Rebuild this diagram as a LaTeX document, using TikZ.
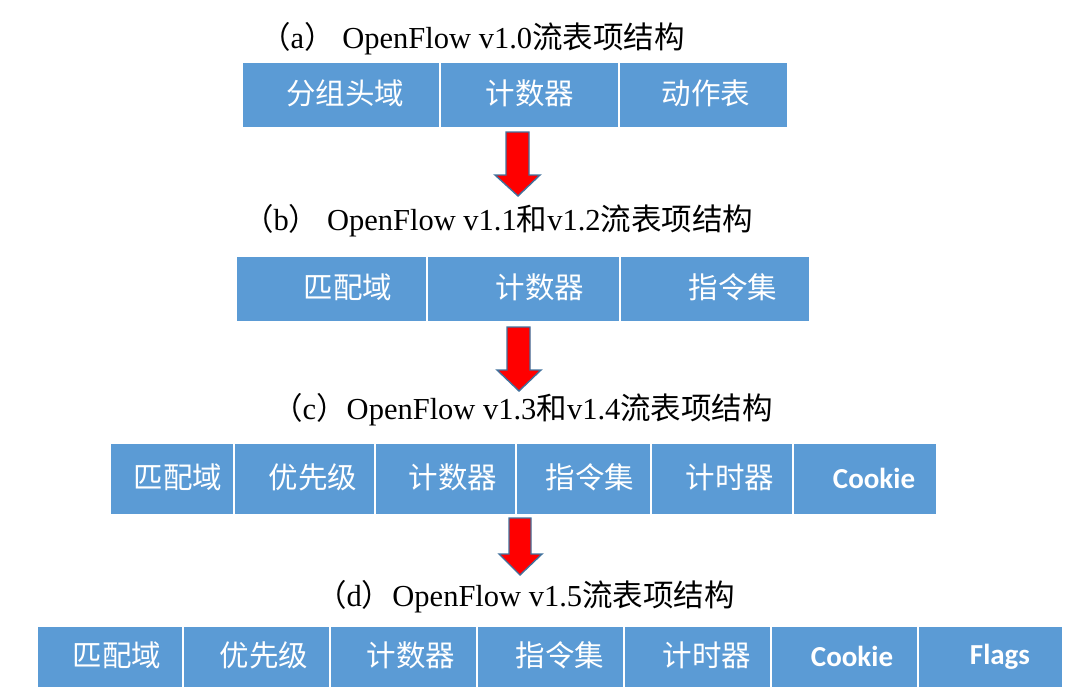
\documentclass[tikz,border=0pt]{standalone}
\usepackage{fontspec}
\setmainfont{Liberation Serif}
\newfontfamily\cjk{Noto Sans CJK SC}
\newfontfamily\carl{Carlito}
\definecolor{cellblue}{HTML}{5B9BD5}
\definecolor{arrowedge}{HTML}{41719C}
\begin{document}
\begin{tikzpicture}[x=1pt,y=-1pt,
  cell/.style={draw=white,line width=1.3pt,fill=cellblue,inner sep=0pt},
  ctext/.style={text=white,inner sep=0pt,font=\cjk\fontsize{29.5}{33}\selectfont},
  etext/.style={text=white,inner sep=0pt,font=\carl\bfseries\fontsize{29}{33}\selectfont},
  title/.style={anchor=west,inner sep=0pt,font=\fontsize{30.5}{35}\selectfont},
  bigarrow/.style={fill=red,draw=arrowedge,line width=1.4pt,line join=miter}]
\useasboundingbox (0,0) rectangle (1068,694);
% helper macro for cells
\newcommand{\mkcell}[5]{\node[cell,minimum width={#3-#2},minimum height=#5] (#1) at ({(#2+#3)/2},#4) {};}
% ---- titles
\node[title] (ta) at (260,39) {{\cjk （}a{\cjk ）} OpenFlow v1.0{\cjk 流表项结构}};
\node[title] (tb) at (243,221) {{\cjk （}b{\cjk ）} OpenFlow v1.1{\cjk 和}v1.2{\cjk 流表项结构}};
\node[title] (tc) at (272,410) {{\cjk （}c{\cjk ）}OpenFlow v1.3{\cjk 和}v1.4{\cjk 流表项结构}};
\node[title] (td) at (316,597) {{\cjk （}d{\cjk ）}OpenFlow v1.5{\cjk 流表项结构}};
% ---- row a
\mkcell{a1}{242}{440}{95}{66}
\mkcell{a2}{440}{619}{95}{66}
\mkcell{a3}{619}{788}{95}{66}
\node[ctext] (la1) at (345,93) {分组头域};
\node[ctext] (la2) at (530,93) {计数器};
\node[ctext] (la3) at (706,93) {动作表};
% ---- row b
\mkcell{b1}{236}{427}{289}{66}
\mkcell{b2}{427}{620}{289}{66}
\mkcell{b3}{620}{810}{289}{66}
\node[ctext] (lb1) at (348,287) {匹配域};
\node[ctext] (lb2) at (540,287) {计数器};
\node[ctext] (lb3) at (733,287) {指令集};
% ---- row c
\mkcell{c1}{110}{234}{479}{72}
\mkcell{c2}{234}{375}{479}{72}
\mkcell{c3}{375}{516}{479}{72}
\mkcell{c4}{516}{651}{479}{72}
\mkcell{c5}{651}{793}{479}{72}
\mkcell{c6}{793}{937}{479}{72}
\node[ctext] (lc1) at (178,477) {匹配域};
\node[ctext] (lc2) at (313,477) {优先级};
\node[ctext] (lc3) at (453,477) {计数器};
\node[ctext] (lc4) at (590,477) {指令集};
\node[ctext] (lc5) at (730,477) {计时器};
\node[etext] (lc6) at (874,478) {Cookie};
% ---- row d
\mkcell{d1}{37}{183}{657}{62}
\mkcell{d2}{183}{330}{657}{62}
\mkcell{d3}{330}{477}{657}{62}
\mkcell{d4}{477}{624}{657}{62}
\mkcell{d5}{624}{771}{657}{62}
\mkcell{d6}{771}{918}{657}{62}
\mkcell{d7}{918}{1063}{657}{62}
\node[ctext] (ld1) at (117,655) {匹配域};
\node[ctext] (ld2) at (264,655) {优先级};
\node[ctext] (ld3) at (411,655) {计数器};
\node[ctext] (ld4) at (560,655) {指令集};
\node[ctext] (ld5) at (707,655) {计时器};
\node[etext] (ld6) at (852,656) {Cookie};
\node[etext] (ld7) at (1000,657) {Flags};
% ---- arrows
\draw[bigarrow] (506,132) -- (529,132) -- (529,175) -- (540,175) -- (518,196) -- (495,175) -- (506,175) -- cycle;
\draw[bigarrow] (507,327) -- (530,327) -- (530,370) -- (541,370) -- (519,391) -- (497,370) -- (507,370) -- cycle;
\draw[bigarrow] (509,518) -- (531,518) -- (531,554) -- (542,554) -- (520,575) -- (499,554) -- (509,554) -- cycle;
\end{tikzpicture}
\end{document}
